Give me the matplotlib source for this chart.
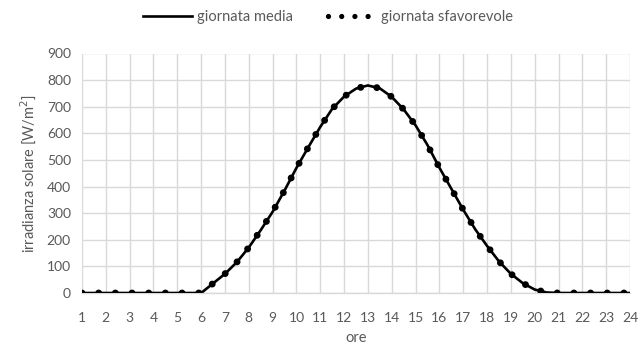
import matplotlib
matplotlib.use("Agg")
import matplotlib.pyplot as plt
from matplotlib.lines import Line2D

# hours (half-hour readings) and irradiance values
ore = [1, 1.5, 2, 2.5, 3, 3.5, 4, 4.5, 5, 5.5, 6, 6.5, 7, 7.5, 8, 8.5, 9, 9.5,
       10, 10.5, 11, 11.5, 12, 12.5, 13, 13.5, 14, 14.5, 15, 15.5, 16, 16.5,
       17, 17.5, 18, 18.5, 19, 19.5, 20, 20.5, 21, 21.5, 22, 22.5, 23, 23.5, 24]
giornata_media = [0, 0, 0, 0, 0, 0, 0, 0, 0, 0, 0, 36, 72, 116, 171, 236, 305, 385,
                  470, 548, 624, 692, 738, 768, 780, 769, 737, 690, 630, 556, 471, 392,
                  313, 240, 177, 119, 72, 37, 13, 2, 0, 0, 0, 0, 0, 0, 0]
giornata_sfavorevole = list(giornata_media)

x_ticks = list(range(1, 25))
y_ticks = list(range(0, 901, 100))

grey = "#595959"
plt.rcParams['font.family'] = ['Lato', 'DejaVu Sans']

fig = plt.figure(figsize=(6.41, 3.52), dpi=100)
ax = fig.add_axes([82/641, 1-293/352, (630-82)/641, (293-53.5)/352])

ax.plot(ore, giornata_media, color="black", lw=1.9, solid_capstyle="round",
        solid_joinstyle="round", zorder=3)
ax.plot(ore, giornata_sfavorevole, color="black", lw=5.0,
        linestyle=(0, (0.001, 2.4)), dash_capstyle="round", zorder=4)

ax.set_xlim(1, 24)
ax.set_ylim(0, 900)
ax.set_xticks(x_ticks)
ax.set_yticks(y_ticks)
ax.grid(True, color="#d9d9d9", lw=1.0)
ax.set_axisbelow(True)
for s in ["top", "right", "left"]:
    ax.spines[s].set_visible(False)
ax.spines["bottom"].set_color("#d9d9d9")
ax.spines["bottom"].set_linewidth(1.0)
ax.tick_params(axis="both", length=0, colors=grey, labelsize=10)
ax.tick_params(axis="x", pad=14)
ax.tick_params(axis="y", pad=8)

ax.set_xlabel("ore", color=grey, fontsize=10.5, labelpad=5)
ax.set_ylabel("irradianza solare [W/m$^2$]", color=grey, fontsize=10.5, labelpad=6)

h_media = Line2D([], [], color="black", lw=1.9)
h_sfav = Line2D([], [], color="black", lw=3.8, linestyle=(0, (0.001, 2.5)),
                dash_capstyle="round")
leg = fig.legend([h_media, h_sfav], ["giornata media", "giornata sfavorevole"],
                 loc="center", bbox_to_anchor=(328/641, 1-17/352), ncol=2,
                 frameon=False, fontsize=10.5, handlelength=3.4, columnspacing=2.4,
                 handletextpad=0.3, labelcolor=grey)

fig.savefig("out.png", dpi=100)
